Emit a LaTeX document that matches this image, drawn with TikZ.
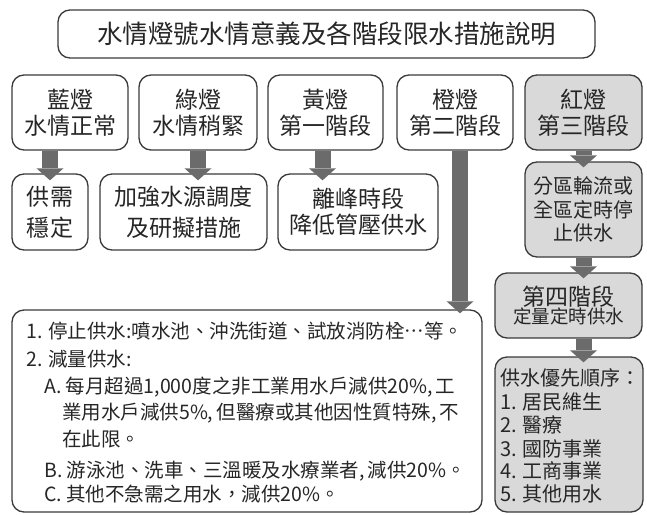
\documentclass[tikz,border=0pt]{standalone}
\usepackage{fontspec}
\setmainfont{Noto Sans CJK TC}[Script=CJK, Language=Chinese Traditional]
\usetikzlibrary{arrows.meta}
\definecolor{edgec}{HTML}{3A3A3A}
\definecolor{barc}{HTML}{6B6B6B}
\definecolor{boxgray}{HTML}{D9D9D9}
\tikzset{
  box/.style={draw=edgec, line width=1.3pt, rounded corners=12pt, inner sep=0pt, align=center, text=black!85},
  graybox/.style={box, fill=boxgray},
  bar/.style={draw=barc, line width=16pt, -{Triangle[width=27pt,length=12pt,line width=0pt]}},
  txt/.style={inner sep=0pt, anchor=west, text=black!85},
}
\newcommand{\setfsz}[2]{\fontsize{#1}{#2}\selectfont}
\begin{document}
\begin{tikzpicture}[x=1pt,y=-1pt]
\useasboundingbox (0,0) rectangle (647,514);
% title
\node[box, minimum width=537pt, minimum height=48pt, font=\setfsz{25.5}{30}] (title) at (326.5,34) {水情燈號水情意義及各階段限水措施說明};
% row 1
\node[box, minimum width=116pt, minimum height=75pt, font=\setfsz{23}{26}] (blue) at (70,112.5) {藍燈\\水情正常};
\node[box, minimum width=118pt, minimum height=75pt, font=\setfsz{23}{26}] (green) at (198,112.5) {綠燈\\水情稍緊};
\node[box, minimum width=115pt, minimum height=75pt, font=\setfsz{23}{26}] (yellow) at (325.5,112.5) {黃燈\\第一階段};
\node[box, minimum width=116pt, minimum height=75pt, font=\setfsz{23}{26}] (orange) at (455,112.5) {橙燈\\第二階段};
\node[graybox, minimum width=117pt, minimum height=75pt, font=\setfsz{23}{26}] (red) at (583.5,112.5) {紅燈\\第三階段};
% row 2
\node[box, minimum width=76pt, minimum height=76pt, font=\setfsz{23}{31}] (stable) at (50,212) {供需\\穩定};
\node[box, minimum width=167pt, minimum height=76pt, font=\setfsz{23}{31}] (strengthen) at (183.5,212) {加強水源調度\\及研擬措施};
\node[box, minimum width=160pt, minimum height=76pt, font=\setfsz{23}{26}] (offpeak) at (358,212) {離峰時段\\降低管壓供水};
% right column
\node[graybox, minimum width=117pt, minimum height=95pt, font=\setfsz{20}{23.5}] (zone) at (583.5,209.5) {分區輪流或\\全區定時停\\止供水};
\node[graybox, minimum width=147pt, minimum height=65pt] (fourth) at (568.5,305.5) {{\setfsz{23}{25}第四階段}\\[-1pt]{\setfsz{18.5}{22}定量定時供水}};
\node[graybox, minimum width=148pt, minimum height=155pt] (priority) at (569,434.5) {};
% big box
\node[box, minimum width=470pt, minimum height=202pt] (big) at (247,411) {};
% big box text
\begin{scope}[font=\setfsz{19.5}{22}]
\node[txt] (l1) at (26,331) {1. 停止供水:噴水池、沖洗街道、試放消防栓…等。};
\node[txt] (l2) at (26,359) {2. 減量供水:};
\node[txt] (la) at (44,387) {A. 每月超過1,000度之非工業用水戶減供20\%,\,工};
\node[txt] (la2) at (62,413) {業用水戶減供5\%,\,但醫療或其他因性質特殊,\,不};
\node[txt] (la3) at (62,439) {在此限。};
\node[txt] (lb) at (44,471) {B. 游泳池、洗車、三溫暖及水療業者,\,減供20\%。};
\node[txt] (lc) at (44,494) {C. 其他不急需之用水，減供20\%。};
\end{scope}
% priority text
\begin{scope}[font=\setfsz{20}{23}]
\node[txt] (p0) at (500,378) {供水優先順序：};
\node[txt] (p1) at (500,402) {1. 居民維生};
\node[txt] (p2) at (500,425) {2. 醫療};
\node[txt] (p3) at (500,449) {3. 國防事業};
\node[txt] (p4) at (500,471) {4. 工商事業};
\node[txt] (p5) at (500,494) {5. 其他用水};
\end{scope}
% arrows
\draw[bar] (blue.south -| stable.north) -- ([yshift=-7pt]stable.north);
\draw[bar] (green.south) -- ([yshift=-7pt]strengthen.north -| green.south);
\draw[bar] ([xshift=-3pt]yellow.south) -- ([xshift=-3pt,yshift=-7pt]offpeak.north -| yellow.south);
\draw[bar] ([xshift=5pt]orange.south) -- ([xshift=5pt,yshift=-4pt]big.north -| orange.south);
\draw[bar] (red.south) -- ([yshift=-6pt]zone.north);
\draw[bar] (zone.south) -- ([yshift=-6pt]fourth.north -| zone.south);
\draw[bar] (fourth.south -| zone.south) -- ([yshift=-6pt]priority.north -| zone.south);
\end{tikzpicture}
\end{document}
